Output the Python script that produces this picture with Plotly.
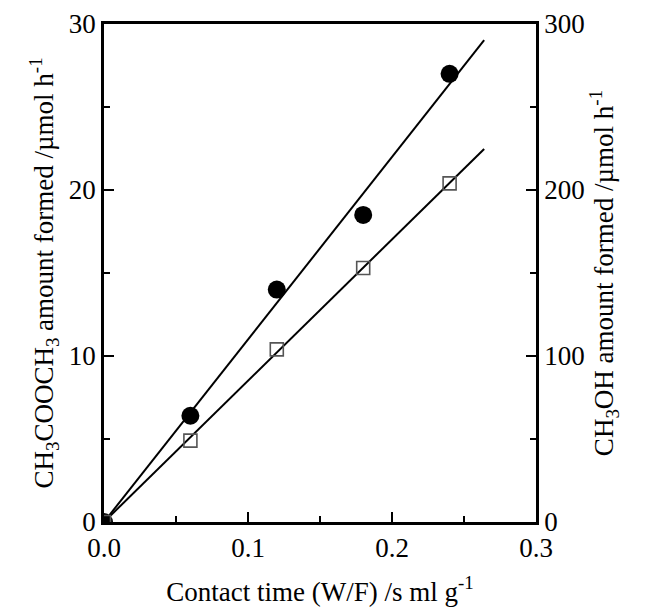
import plotly.graph_objects as go

# Contact time (W/F) / s ml g^-1
contact_time = [0.0, 0.06, 0.12, 0.18, 0.24]
# Methyl acetate formed / umol h^-1 (left axis)
ch3cooch3 = [0.0, 6.4, 14.0, 18.5, 27.0]
# Methanol formed / umol h^-1 (right axis)
ch3oh = [0.0, 49.0, 104.0, 153.0, 204.0]

x_fit_end = 0.264


def slope_through_origin(xs, ys):
    sxy = sum(a * b for a, b in zip(xs, ys))
    sxx = sum(a * a for a in xs)
    return sxy / sxx


k1 = slope_through_origin(contact_time, ch3cooch3)
k2 = slope_through_origin(contact_time, ch3oh)

FONT = "Liberation Serif"
FS = 27
fig = go.Figure()

fig.add_trace(go.Scatter(x=[0, x_fit_end], y=[0, k1 * x_fit_end], mode="lines",
                         line=dict(color="black", width=2), showlegend=False))
fig.add_trace(go.Scatter(x=[0, x_fit_end], y=[0, k2 * x_fit_end], mode="lines",
                         line=dict(color="black", width=2), yaxis="y2", showlegend=False))
fig.add_trace(go.Scatter(x=contact_time, y=ch3cooch3, mode="markers",
                         marker=dict(symbol="circle", size=18, color="black"),
                         showlegend=False))
fig.add_trace(go.Scatter(x=contact_time, y=ch3oh, mode="markers", yaxis="y2",
                         marker=dict(symbol="square-open", size=13, color="#555555",
                                     line=dict(width=1.6)),
                         showlegend=False))

axis_common = dict(showgrid=False, zeroline=False, showline=True, linecolor="black",
                   linewidth=2.5, ticks="inside", ticklen=10, tickwidth=2, automargin=False,
                   tickcolor="black", tickfont=dict(family=FONT, size=FS, color="black"))

fig.update_layout(
    width=645, height=610,
    margin=dict(l=104, r=109, t=24, b=88),
    paper_bgcolor="white", plot_bgcolor="white",
    font=dict(family=FONT, size=FS, color="black"),
    xaxis=dict(range=[0, 0.3], dtick=0.1, tickformat=".1f", mirror=True,
               minor=dict(ticks="inside", ticklen=6, tickwidth=2, dtick=0.05, tickcolor="black"),
               title=dict(text="Contact time (W/F) /s ml g<sup>-1</sup>",
                          font=dict(family=FONT, size=FS), standoff=20),
               **axis_common),
    yaxis=dict(range=[0, 30], dtick=10,
               minor=dict(ticks="inside", ticklen=6, tickwidth=2, dtick=5, tickcolor="black"),
               title=dict(text="CH<sub>3</sub>COOCH<sub>3</sub> amount formed /µmol h<sup>-1</sup>",
                          font=dict(family=FONT, size=FS), standoff=8),
               **axis_common),
    yaxis2=dict(range=[0, 300], dtick=100, overlaying="y", side="right",
                minor=dict(ticks="inside", ticklen=6, tickwidth=2, dtick=50, tickcolor="black"),
                title=dict(text="CH<sub>3</sub>OH amount formed /µmol h<sup>-1</sup>",
                           font=dict(family=FONT, size=FS), standoff=11),
                **axis_common),
)

fig.write_html("out.html")
